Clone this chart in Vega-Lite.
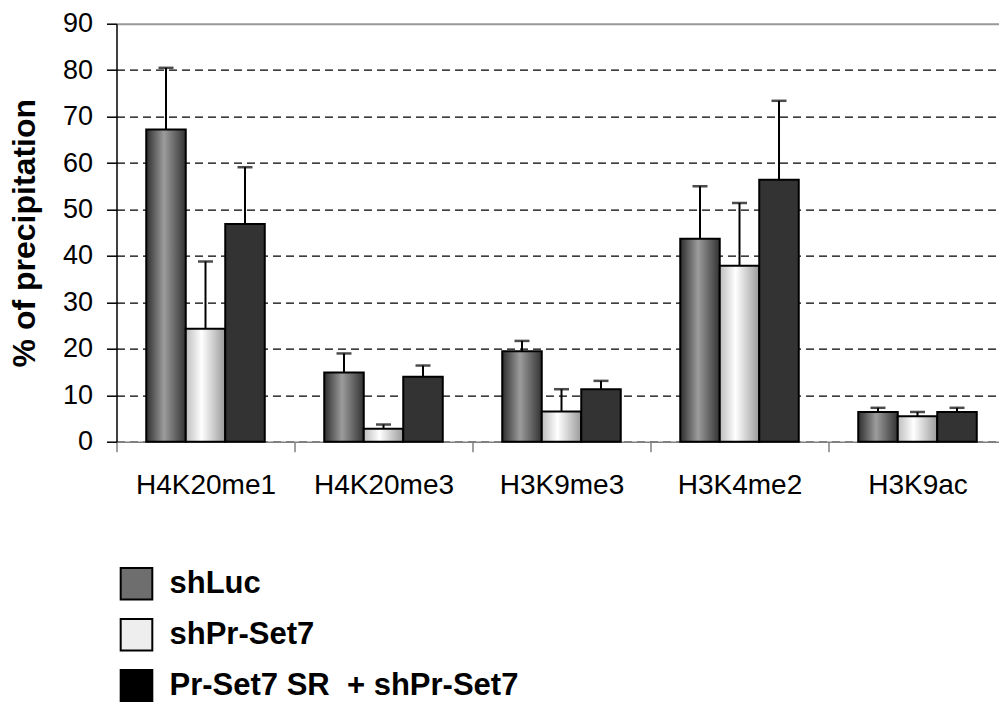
{
  "$schema": "https://vega.github.io/schema/vega-lite/v6.json",
  "autosize": {"type": "none"},
  "padding": {"left": 116.5, "top": 23.7, "right": 0, "bottom": 260.3},
  "width": 883,
  "height": 418,
  "background": "white",
  "config": {
    "view": {"stroke": null},
    "font": "Liberation Sans"
  },
  "data": {
    "values": [
      {"cat": "H4K20me1", "series": "shLuc", "value": 67.2, "upper": 80.5},
      {"cat": "H4K20me1", "series": "shPr-Set7", "value": 24.3, "upper": 38.8},
      {"cat": "H4K20me1", "series": "Pr-Set7 SR\u00a0 + shPr-Set7", "value": 46.9, "upper": 59.1},
      {"cat": "H4K20me3", "series": "shLuc", "value": 14.9, "upper": 19.0},
      {"cat": "H4K20me3", "series": "shPr-Set7", "value": 2.8, "upper": 3.7},
      {"cat": "H4K20me3", "series": "Pr-Set7 SR\u00a0 + shPr-Set7", "value": 14.0, "upper": 16.4},
      {"cat": "H3K9me3", "series": "shLuc", "value": 19.5, "upper": 21.7},
      {"cat": "H3K9me3", "series": "shPr-Set7", "value": 6.5, "upper": 11.3},
      {"cat": "H3K9me3", "series": "Pr-Set7 SR\u00a0 + shPr-Set7", "value": 11.3, "upper": 13.1},
      {"cat": "H3K4me2", "series": "shLuc", "value": 43.7, "upper": 55.0},
      {"cat": "H3K4me2", "series": "shPr-Set7", "value": 37.9, "upper": 51.4},
      {"cat": "H3K4me2", "series": "Pr-Set7 SR\u00a0 + shPr-Set7", "value": 56.4, "upper": 73.4},
      {"cat": "H3K9ac", "series": "shLuc", "value": 6.4, "upper": 7.3},
      {"cat": "H3K9ac", "series": "shPr-Set7", "value": 5.5, "upper": 6.4},
      {"cat": "H3K9ac", "series": "Pr-Set7 SR\u00a0 + shPr-Set7", "value": 6.4, "upper": 7.3}
    ]
  },
  "encoding": {
    "x": {
      "field": "cat",
      "type": "nominal",
      "sort": null,
      "scale": {"range": [0, 890], "paddingInner": 0, "paddingOuter": 0},
      "axis": {
        "title": null,
        "labelAngle": 0,
        "tickBand": "extent",
        "labelFont": "Liberation Sans",
        "labelFontSize": 28,
        "labelColor": "black",
        "labelPadding": 20,
        "tickSize": 10,
        "tickColor": "#808080",
        "tickWidth": 1.5,
        "domainColor": "#808080",
        "domainWidth": 1.5,
        "grid": false
      }
    },
    "xOffset": {
      "field": "series",
      "type": "nominal",
      "sort": null,
      "scale": {"domain": ["shLuc", "shPr-Set7", "Pr-Set7 SR\u00a0 + shPr-Set7"], "paddingInner": 0, "paddingOuter": 0.753}
    },
    "y": {
      "field": "value",
      "type": "quantitative",
      "scale": {"domain": [0, 90], "nice": false},
      "axis": {
        "title": "% of precipitation",
        "titleFont": "Liberation Sans",
        "titleFontSize": 32,
        "titleFontWeight": "bold",
        "titleColor": "black",
        "titlePadding": 21,
        "values": [0, 10, 20, 30, 40, 50, 60, 70, 80, 90],
        "labelFont": "Liberation Sans",
        "labelFontSize": 27,
        "labelColor": "black",
        "labelPadding": 14,
        "tickSize": 10,
        "tickColor": "black",
        "tickWidth": 1.5,
        "domainColor": "black",
        "domainWidth": 1.5,
        "grid": true,
        "gridColor": {"condition": {"test": "datum.value === 90", "value": "#999999"}, "value": "black"},
        "gridDash": {"condition": {"test": "datum.value === 90", "value": []}, "value": [8, 5]},
        "gridWidth": {"condition": {"test": "datum.value === 90", "value": 2}, "value": 1.2}
      }
    }
  },
  "layer": [
    {
      "mark": {"type": "rule", "color": "black", "strokeWidth": 2},
      "encoding": {
        "y2": {"field": "upper"}
      }
    },
    {
      "mark": {"type": "tick", "color": "black", "thickness": 2.5, "size": 15, "orient": "horizontal"},
      "encoding": {
        "y": {"field": "upper", "type": "quantitative"}
      }
    },
    {
      "transform": [{"filter": "datum.series === 'shLuc'"}],
      "mark": {"type": "bar", "stroke": "black", "strokeWidth": 2,
        "fill": {"gradient": "linear", "x1": 0, "y1": 0, "x2": 1, "y2": 0, "stops": [{"offset": 0, "color": "#2e2e2e"}, {"offset": 0.45, "color": "#9c9c9c"}, {"offset": 1, "color": "#333333"}]}},
      "encoding": {}
    },
    {
      "transform": [{"filter": "datum.series === 'shPr-Set7'"}],
      "mark": {"type": "bar", "stroke": "black", "strokeWidth": 2,
        "fill": {"gradient": "linear", "x1": 0, "y1": 0, "x2": 1, "y2": 0, "stops": [{"offset": 0, "color": "#bdbdbd"}, {"offset": 0.4, "color": "#ffffff"}, {"offset": 1, "color": "#9a9a9a"}]}},
      "encoding": {}
    },
    {
      "transform": [{"filter": "datum.series !== 'shLuc' && datum.series !== 'shPr-Set7'"}],
      "mark": {"type": "bar", "stroke": "black", "strokeWidth": 2, "fill": "#333333"},
      "encoding": {}
    },
    {
      "mark": {"type": "bar", "fillOpacity": 0, "strokeOpacity": 0},
      "encoding": {
        "color": {
          "field": "series",
          "type": "nominal",
          "sort": null,
          "scale": {
            "domain": ["shLuc", "shPr-Set7", "Pr-Set7 SR\u00a0 + shPr-Set7"],
            "range": ["#6e6e6e", "#eeeeee", "#000000"]
          },
          "legend": {
            "title": null,
            "orient": "none",
            "legendX": 3,
            "legendY": 543,
            "direction": "vertical",
            "padding": 0,
            "symbolType": "square",
            "symbolSize": 1000,
            "symbolStrokeColor": "black",
            "symbolStrokeWidth": 2,
            "symbolOpacity": 1,
            "symbolFillOpacity": 1,
            "labelFont": "Liberation Sans",
            "labelFontSize": 31,
            "labelFontWeight": "bold",
            "labelColor": "black",
            "labelOffset": 16,
            "labelLimit": 600,
            "rowPadding": 11
          }
        }
      }
    }
  ]
}
